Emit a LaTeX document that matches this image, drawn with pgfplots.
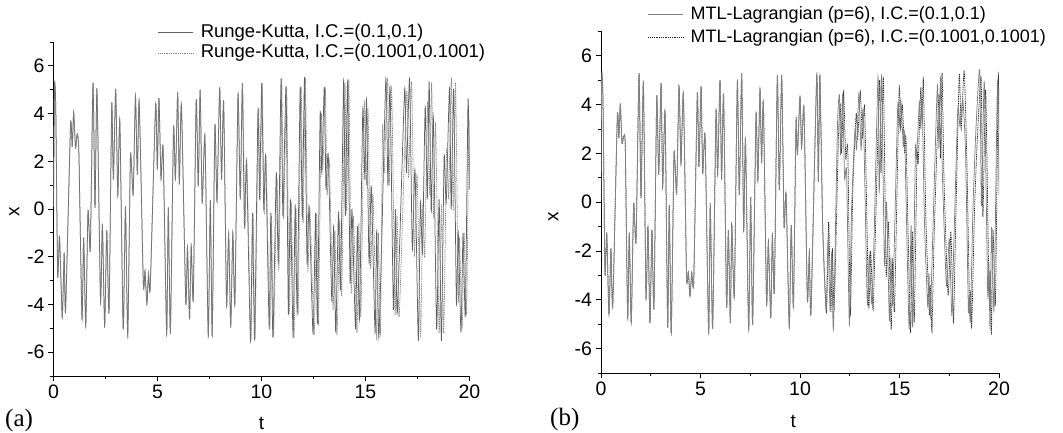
\documentclass[border=0pt]{standalone}
\usepackage{pgfplots}
\pgfplotsset{compat=1.18}
\usepackage{fontspec}
\setmainfont{Liberation Sans}
\newfontfamily\seriffont{Liberation Serif}
\pgfplotsset{
  myaxis/.style={
    scale only axis, anchor=south west,
    xmin=0, xmax=20, ymin=-7, ymax=7,
    axis x line*=bottom, axis y line*=left,
    xtick={0,5,10,15,20}, ytick={-6,-4,...,6},
    minor x tick num=1, minor y tick num=1,
    extra y ticks={-7,7}, extra y tick labels={},
    extra y tick style={major tick length=3.5pt},
    tick align=outside,
    major tick length=5.5pt, minor tick length=3.5pt,
    every tick/.style={black, line width=0.8pt},
    axis line style={black, line width=0.9pt},
    tick label style={font=\fontsize{19.5}{21}\selectfont},
    /pgf/number format/assume math mode=true,
    label style={font=\fontsize{19}{21}\selectfont},
    xlabel={t}, ylabel={x},
    legend style={draw=none, fill=none, anchor=north west, inner sep=0pt, outer sep=0pt,
      column sep=7pt, nodes={inner xsep=0pt, inner ysep=0pt, text height=14pt, text depth=4pt}},
    legend cell align=left,
    legend image code/.code={\draw[#1] (0pt,0pt) -- (35pt,0pt);},
  },
  solidA/.style={draw=black!62, line width=0.75pt, smooth, tension=0.35},
  dotA/.style={draw=black!50, line width=0.75pt, dash pattern=on 1pt off 0.8pt, smooth, tension=0.35},
  solidB/.style={draw=black!50, line width=0.75pt, smooth, tension=0.35},
  dotB/.style={draw=black!88, line width=0.75pt, dash pattern=on 1pt off 0.8pt, smooth, tension=0.35},
}
\begin{document}
\begin{tikzpicture}
\useasboundingbox (0,0) rectangle (1063pt,433pt);
% ---------------- panel (a)
\begin{axis}[myaxis, at={(53.5pt,57pt)}, width=416pt, height=334pt,
  xlabel style={at={(axis description cs:0.5,-0.142)}, anchor=center},
  ylabel style={at={(axis description cs:-0.094,0.492)}, anchor=center},
  legend style={at={(rel axis cs:0.2512,1.056)}, row sep=2.6pt, font=\fontsize{18.5}{20}\selectfont}]
\addplot[solidA] coordinates {(0,0.1)(0.05,5.2)(0.11,4.2)(0.2,-2.8)(0.29,-1.14)(0.42,-4.55)(0.515,-1.83)(0.58,-4.27)(0.82,3.54)(0.9,2.6)(0.97,4.05)(1.06,2.55)(1.14,3.15)(1.22,2.35)(1.37,-4.62)(1.45,-1.2)(1.55,-4.9)(1.66,-0.05)(1.77,-1.72)(1.9,5.3)(1.995,0.05)(2.09,5.03)(2.26,-3.86)(2.35,-0.62)(2.46,-4.97)(2.56,-0.89)(2.67,-4.34)(2.8,4.41)(2.88,1.23)(2.99,5.03)(3.09,0.54)(3.19,3.7)(3.35,-5.04)(3.46,0.12)(3.57,-5.32)(3.7,2.25)(3.83,0.61)(3.94,4.75)(4.03,1.44)(4.12,4.51)(4.32,-3.16)(4.4,-2.6)(4.49,-3.97)(4.57,-2.68)(4.65,-3.3)(4.91,4.37)(4.99,1.65)(5.07,4.65)(5.17,1.23)(5.27,2.56)(5.44,-5.25)(5.52,0.07)(5.62,-5.2)(5.77,3.4)(5.86,1.23)(5.97,4.89)(6.05,1.03)(6.15,4.37)(6.36,-3.93)(6.44,-1.6)(6.54,-4.62)(6.62,-1.53)(6.72,-3.8)(6.86,4.58)(6.96,0.95)(7.05,5)(7.15,0.25)(7.28,3.05)(7.44,-5.34)(7.54,0.38)(7.63,-5.3)(7.76,3.5)(7.86,0.32)(7.99,5.11)(8.08,1.23)(8.18,4.51)(8.32,-4)(8.42,-1)(8.52,-4.97)(8.62,-1)(8.72,-3.99)(8.87,4.79)(8.98,0.4)(9.08,5.27)(9.18,-0.72)(9.28,2)(9.47,-5.53)(9.57,-0.16)(9.67,-5.46)(9.83,4.16)(9.91,0.4)(10.01,5.27)(10.11,-0.02)(10.2,2.21)(10.37,-4.97)(10.45,-0.16)(10.55,-5.39)(10.71,1.51)(10.81,-2.25)(10.94,5.48)(11.03,-0.3)(11.18,5.13)(11.29,-4.34)(11.39,0.4)(11.52,-5.39)(11.62,0.19)(11.72,-4.34)(11.86,5.13)(11.96,-0.44)(12.07,5.53)(12.19,-2.25)(12.29,0.12)(12.48,-5.25)(12.6,-0.16)(12.69,-4.76)(12.82,4.02)(12.9,1.51)(13.02,5.13)(13.1,0.82)(13.21,2.28)(13.38,-3.85)(13.47,-0.72)(13.57,-5.18)(13.7,-0.16)(13.8,-3.36)(13.95,5.41)(14.03,-0.3)(14.14,5.35)(14.26,-3.09)(14.35,-0.02)(14.52,-5.04)(14.61,-0.72)(14.71,-4.62)(14.87,4.16)(14.97,1.23)(15.05,4.58)(15.17,-2.25)(15.28,0.95)(15.46,-5.18)(15.54,-0.86)(15.64,-5.39)(15.79,-1)(15.98,5.48)(16.08,0.95)(16.18,5.13)(16.34,-4.2)(16.44,-0.02)(16.53,-4.34)(16.88,5)(16.97,1.51)(17.12,5.48)(17.25,-1.69)(17.38,1.65)(17.54,-5.53)(17.64,0.26)(17.74,-1.83)(17.87,4.3)(17.97,0.4)(18.06,5.35)(18.16,-0.16)(18.26,3.88)(18.42,-5.04)(18.54,0.4)(18.65,-5.53)(18.78,2.21)(18.88,0.26)(19.04,5.13)(19.12,-0.02)(19.24,5)(19.37,-3.92)(19.46,-1)(19.59,-5.18)(19.69,-1)(19.8,-4.48)(19.93,4.58)(20,0.82)};
\addlegendentry{Runge-Kutta, I.C.=(0.1,0.1)}
\addplot[dotA] coordinates {(0,0.1)(0.05,5.2)(0.11,4.2)(0.2,-2.8)(0.29,-1.14)(0.42,-4.55)(0.515,-1.83)(0.58,-4.27)(0.82,3.54)(0.9,2.6)(0.97,4.05)(1.06,2.55)(1.14,3.15)(1.22,2.35)(1.37,-4.62)(1.45,-1.2)(1.55,-4.9)(1.66,-0.05)(1.77,-1.72)(1.9,5.3)(1.995,0.05)(2.09,5.03)(2.26,-3.86)(2.35,-0.62)(2.46,-4.97)(2.56,-0.89)(2.67,-4.34)(2.8,4.41)(2.88,1.23)(2.99,5.03)(3.09,0.54)(3.19,3.7)(3.35,-5.04)(3.46,0.12)(3.57,-5.32)(3.7,2.25)(3.83,0.61)(3.94,4.75)(4.03,1.44)(4.12,4.51)(4.32,-3.16)(4.4,-2.6)(4.49,-3.97)(4.57,-2.68)(4.65,-3.3)(4.91,4.37)(4.99,1.65)(5.07,4.65)(5.17,1.23)(5.27,2.56)(5.44,-5.25)(5.52,0.07)(5.62,-5.2)(5.77,3.4)(5.86,1.23)(5.97,4.89)(6.05,1.03)(6.15,4.37)(6.36,-3.93)(6.44,-1.6)(6.54,-4.62)(6.62,-1.53)(6.72,-3.8)(6.86,4.58)(6.96,0.95)(7.05,5)(7.15,0.25)(7.28,3.05)(7.44,-5.34)(7.54,0.38)(7.63,-5.3)(7.76,3.5)(7.86,0.32)(7.99,5.11)(8.08,1.23)(8.18,4.51)(8.32,-4)(8.42,-1)(8.52,-4.97)(8.62,-1)(8.72,-3.99)(8.87,4.79)(8.98,0.4)(9.09,5.27)(9.2,-0.8)(9.3,1.9)(9.49,-5.45)(9.59,-0.2)(9.69,-5.4)(9.85,4.2)(9.93,0.35)(10.03,5.3)(10.13,-0.1)(10.22,2.1)(10.4,-5)(10.48,-0.3)(10.58,-5.35)(10.74,1.3)(10.84,-2.5)(10.97,5.45)(11.06,-0.4)(11.21,5.1)(11.33,-4.4)(11.43,0.3)(11.56,-5.4)(11.66,0.05)(11.76,-4.4)(11.9,5.1)(12,-0.6)(12.11,5.5)(12.23,-2.5)(12.33,0)(12.53,-5.3)(12.65,-0.2)(12.74,-4.8)(12.87,3.9)(12.95,1.7)(13.07,5)(13.15,0.6)(13.26,2)(13.44,-4.2)(13.53,-0.9)(13.63,-5.3)(13.76,-0.5)(13.86,-3.6)(14.01,5.3)(14.09,-0.1)(14.2,5.4)(14.32,-3.5)(14.42,-0.3)(14.59,-5.2)(14.68,-0.6)(14.78,-4.5)(14.94,4.4)(15.04,1)(15.12,4.2)(15.25,-2.5)(15.36,0.6)(15.54,-5.4)(15.62,-1)(15.72,-5.2)(15.82,3.4)(15.9,1.5)(16.06,5.4)(16.14,1)(16.26,5)(16.42,-4.4)(16.52,-0.3)(16.62,-4.5)(16.98,4.9)(17.07,1.3)(17.22,5.3)(17.35,-1.9)(17.48,1.4)(17.65,-5.4)(17.75,0.1)(17.85,-2)(17.98,4.5)(18.08,0.6)(18.18,5.3)(18.28,-0.4)(18.37,3.6)(18.54,-5.2)(18.65,0.2)(18.76,-5.2)(18.9,2.5)(19,0.5)(19.13,5.5)(19.22,-0.1)(19.33,5.3)(19.46,-3.8)(19.52,-1.2)(19.65,-5)(19.74,-1)(19.86,-4.4)(19.97,3.5)(20,1.5)};
\addlegendentry{Runge-Kutta, I.C.=(0.1001,0.1001)}
\end{axis}
% ---------------- panel (b)
\begin{axis}[myaxis, at={(601pt,60pt)}, width=398pt, height=341.7pt,
  xlabel style={at={(axis description cs:0.483,-0.143)}, anchor=center},
  ylabel style={at={(axis description cs:-0.12,0.458)}, anchor=center},
  reverse legend,
  legend style={at={(rel axis cs:0.118,1.0764)}, row sep=5.3pt, font=\fontsize{18}{20}\selectfont}]
\addplot[dotB] coordinates {(0,0.1)(0.033,5.15)(0.1,4.2)(0.2,-2.91)(0.29,-1.25)(0.4,-4.62)(0.5,-1.89)(0.59,-4.28)(0.82,3.5)(0.9,2.62)(0.97,4.05)(1.055,2.41)(1.14,2.69)(1.22,2.3)(1.34,-4.76)(1.42,-1.25)(1.52,-4.96)(1.64,-0.05)(1.76,-1.62)(1.91,5.28)(2.01,0.16)(2.13,4.94)(2.26,-3.87)(2.36,-1)(2.46,-4.96)(2.56,-1.14)(2.66,-4.35)(2.8,4.33)(2.9,1.12)(3.02,4.87)(3.1,0.64)(3.22,3.71)(3.35,-5.1)(3.43,-0.12)(3.53,-5.38)(3.67,2)(3.8,0.36)(3.92,4.74)(4.02,1.59)(4.14,4.46)(4.3,-3.05)(4.39,-2.84)(4.47,-3.87)(4.56,-2.9)(4.66,-3.25)(4.84,4.46)(4.92,1.45)(5.03,4.74)(5.11,1.18)(5.23,2.69)(5.41,-5.38)(5.49,-0.05)(5.61,-5.17)(5.78,3.71)(5.86,1.12)(5.98,5)(6.06,0.91)(6.16,4.4)(6.31,-4.28)(6.4,-1.14)(6.5,-4.96)(6.57,-0.93)(6.7,-3.87)(6.85,4.94)(6.95,0.29)(7.07,5.28)(7.17,-1.2)(7.26,2.6)(7.42,-5.25)(7.52,0.2)(7.62,-5)(7.79,3.57)(7.88,0.9)(7.99,4.6)(8.07,1.6)(8.16,4.1)(8.32,-4.14)(8.41,-1.62)(8.53,-4.76)(8.61,-1.35)(8.71,-3.67)(8.86,5.15)(8.96,0.5)(9.08,5.21)(9.2,-1)(9.3,0.36)(9.46,-5.1)(9.56,-0.93)(9.67,-4.28)(9.8,3.3)(9.87,1.93)(10,4.33)(10.08,2.2)(10.2,3.85)(10.37,-4)(10.47,-2.03)(10.55,-4.55)(10.84,5.15)(10.92,0.84)(11,5.15)(11.14,-1)(11.33,-4.5)(11.44,-0.8)(11.55,-4.5)(11.63,-1.9)(11.72,-4.3)(11.93,2.6)(12.02,4)(12.09,2)(12.19,4.5)(12.3,1.8)(12.4,2.2)(12.53,-4.6)(12.65,0.4)(12.82,3.6)(12.9,2.6)(13.03,4.5)(13.14,2.6)(13.25,3.8)(13.45,-4.3)(13.55,-2)(13.67,-4.4)(13.79,-1.2)(14,5)(14.07,1.2)(14.19,5.1)(14.33,-3)(14.44,-0.8)(14.58,-5.2)(14.66,-2.4)(14.75,-4.4)(14.98,4.6)(15.06,3)(15.14,4)(15.26,2)(15.33,2.5)(15.55,-5.3)(15.65,-1.2)(15.74,-4.9)(15.88,1.9)(15.94,1.6)(16.07,4.7)(16.13,3.4)(16.2,5)(16.32,-0.5)(16.5,-4.6)(16.56,-3.4)(16.63,-5.3)(16.74,-1.4)(16.98,4.4)(17.06,1.8)(17.14,5.3)(17.24,0.8)(17.44,-3.8)(17.58,-1.2)(17.71,-4.9)(17.8,-1.8)(18,5.2)(18.1,3)(18.25,5.4)(18.39,1.5)(18.53,-4.6)(18.58,-3.6)(18.63,-5.1)(18.76,-0.6)(18.9,2.4)(19.1,5.1)(19.19,-0.6)(19.33,4.6)(19.5,-3.9)(19.56,-2.8)(19.62,-5.4)(19.7,-1.2)(19.82,-4.1)(19.96,5.1)(20,3)};
\addlegendentry{MTL-Lagrangian (p=6), I.C.=(0.1001,0.1001)}
\addplot[solidB] coordinates {(0,0.1)(0.033,5.15)(0.1,4.2)(0.2,-2.91)(0.29,-1.25)(0.4,-4.62)(0.5,-1.89)(0.59,-4.28)(0.82,3.5)(0.9,2.62)(0.97,4.05)(1.055,2.41)(1.14,2.69)(1.22,2.3)(1.34,-4.76)(1.42,-1.25)(1.52,-4.96)(1.64,-0.05)(1.76,-1.62)(1.91,5.28)(2.01,0.16)(2.13,4.94)(2.26,-3.87)(2.36,-1)(2.46,-4.96)(2.56,-1.14)(2.66,-4.35)(2.8,4.33)(2.9,1.12)(3.02,4.87)(3.1,0.64)(3.22,3.71)(3.35,-5.1)(3.43,-0.12)(3.53,-5.38)(3.67,2)(3.8,0.36)(3.92,4.74)(4.02,1.59)(4.14,4.46)(4.3,-3.05)(4.39,-2.84)(4.47,-3.87)(4.56,-2.9)(4.66,-3.25)(4.84,4.46)(4.92,1.45)(5.03,4.74)(5.11,1.18)(5.23,2.69)(5.41,-5.38)(5.49,-0.05)(5.61,-5.17)(5.78,3.71)(5.86,1.12)(5.98,5)(6.06,0.91)(6.16,4.4)(6.31,-4.28)(6.4,-1.14)(6.5,-4.96)(6.57,-0.93)(6.7,-3.87)(6.85,4.94)(6.95,0.29)(7.07,5.28)(7.17,-1.2)(7.26,2.6)(7.42,-5.25)(7.52,0.2)(7.62,-5)(7.79,3.57)(7.88,0.9)(7.99,4.6)(8.07,1.6)(8.16,4.1)(8.32,-4.14)(8.41,-1.62)(8.53,-4.76)(8.61,-1.35)(8.71,-3.67)(8.86,5.15)(8.96,0.5)(9.08,5.21)(9.2,-1)(9.3,0.36)(9.46,-5.1)(9.56,-0.93)(9.67,-4.28)(9.8,3.3)(9.87,1.93)(10,4.33)(10.08,2.2)(10.2,3.85)(10.37,-4)(10.47,-2.03)(10.55,-4.55)(10.84,5.15)(10.92,0.84)(11,5.15)(11.14,-1)(11.31,-4.42)(11.41,-1.55)(11.51,-4.42)(11.59,-2.1)(11.68,-5.17)(11.88,3.03)(11.98,4.39)(12.04,1.93)(12.14,4.39)(12.24,0.98)(12.34,1.25)(12.48,-5.03)(12.59,-0.32)(12.76,2.96)(12.84,2.14)(12.96,4.46)(13.07,2.14)(13.18,3.71)(13.38,-4.14)(13.48,-2.16)(13.6,-4.14)(13.72,-1.55)(13.92,5.15)(13.98,0.36)(14.1,5.21)(14.24,-2.5)(14.35,0)(14.49,-4.83)(14.57,-2.3)(14.66,-4.14)(14.91,3.92)(14.99,3.16)(15.07,4.19)(15.19,2.28)(15.26,2.68)(15.48,-5.17)(15.58,-0.93)(15.66,-5.1)(15.8,2.14)(15.86,1.8)(16,4.12)(16.07,3)(16.14,4)(16.26,-1)(16.42,-4.3)(16.48,-2.9)(16.55,-4.7)(16.66,-1.7)(16.9,4.75)(16.98,2.2)(17.06,5.1)(17.16,1)(17.36,-3.44)(17.5,-1.5)(17.63,-4.66)(17.72,-2)(17.93,3.8)(18.04,3.1)(18.18,4.2)(18.32,2)(18.46,-4.4)(18.51,-3.8)(18.56,-4.9)(18.69,-0.3)(18.83,2.8)(19.03,5.43)(19.12,-0.16)(19.26,4.95)(19.43,-3.7)(19.49,-2.5)(19.55,-5.2)(19.63,-1)(19.75,-4.4)(19.92,4.9)(20,0.3)};
\addlegendentry{MTL-Lagrangian (p=6), I.C.=(0.1,0.1)}
\end{axis}
\node[anchor=west, inner sep=0pt, font=\seriffont\fontsize{25}{28}\selectfont] at (5pt,12.5pt) {(a)};
\node[anchor=west, inner sep=0pt, font=\seriffont\fontsize{25}{28}\selectfont] at (550pt,13.5pt) {(b)};
\end{tikzpicture}
\end{document}
